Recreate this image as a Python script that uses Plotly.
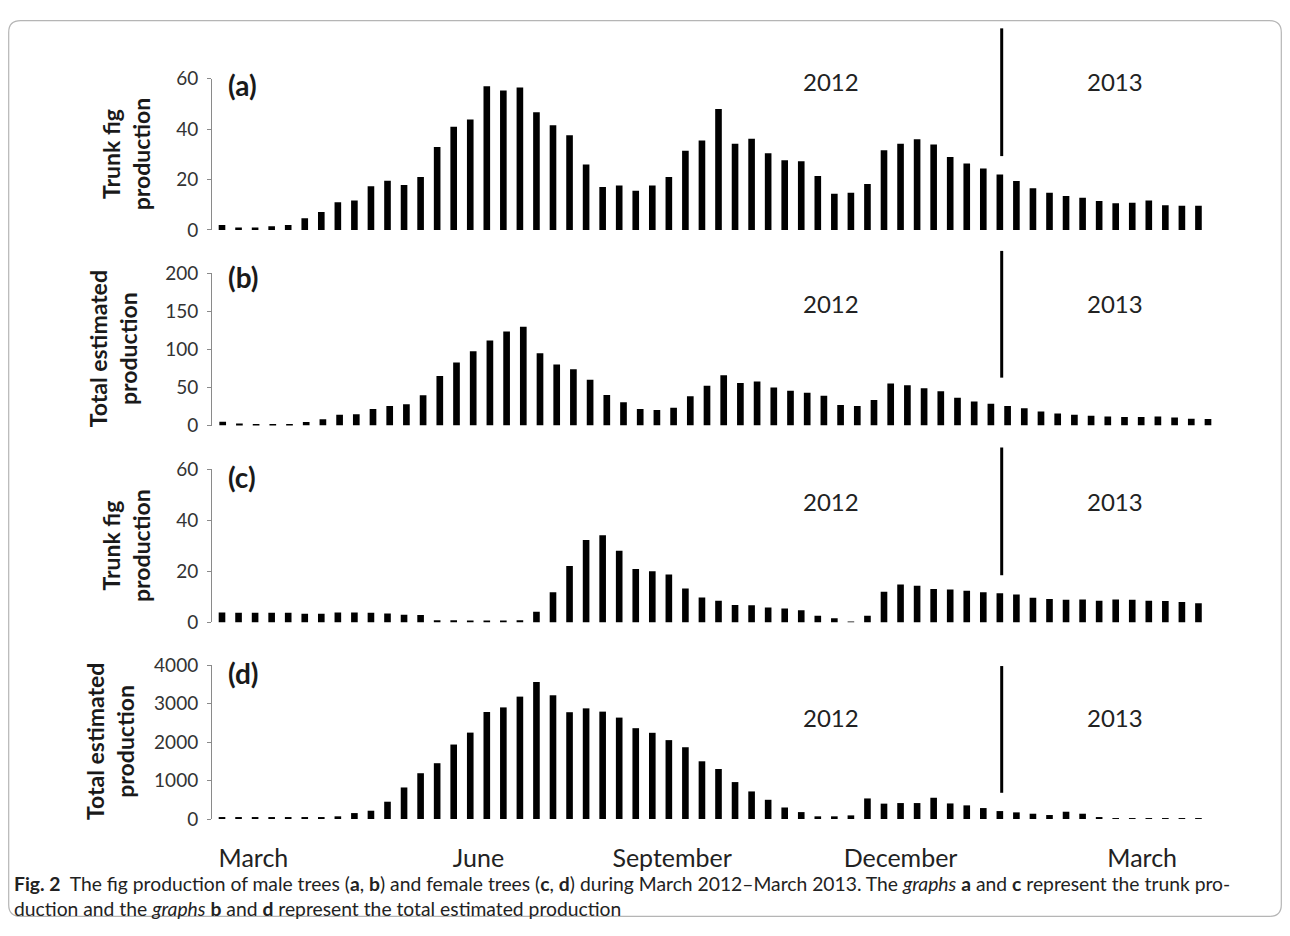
import plotly.graph_objects as go

# ---------------- data (weekly samples, March 2012 - March 2013) ----------------
weeks = list(range(1, 61))

male_trunk = [2, 1, 1, 1.5, 2, 4.6, 7.1, 11, 11.7, 17.3,
              19.5, 17.8, 21, 32.9, 41, 43.8, 57, 55.3, 56.5, 46.7,
              41.5, 37.6, 26, 17, 17.6, 15.6, 17.6, 21, 31.4, 35.5,
              48, 34.2, 36.2, 30.4, 27.7, 27.3, 21.4, 14.4, 14.8, 18.2,
              31.6, 34.2, 36, 33.9, 28.9, 26.4, 24.4, 22, 19.4, 16.5,
              14.8, 13.5, 12.8, 11.5, 10.6, 10.8, 11.7, 9.8, 9.6, 9.6]

male_total = [5, 2.6, 2, 2, 2, 4.8, 8.3, 14.3, 14.8, 21.7,
              25.7, 27.8, 39.6, 65, 82.6, 97.4, 111.7, 123.5, 129.6, 94.8,
              80, 74, 60, 40, 30.4, 21.7, 20.4, 23.5, 38.3, 52.2,
              66, 55.7, 57.8, 50, 45.7, 43, 39, 27, 25.7, 33.5,
              55.2, 53, 49, 45, 36.5, 31.7, 28.7, 25.7, 22.6, 18.3,
              15.7, 14, 13, 11.7, 11.3, 11.3, 11.7, 10.4, 9, 8.7]

female_trunk = [3.9, 3.8, 3.8, 3.8, 3.8, 3.4, 3.4, 3.9, 3.9, 3.8,
                3.5, 3, 2.9, 0.9, 0.9, 0.7, 0.7, 0.7, 0.9, 4.2,
                11.8, 22.1, 32.3, 34.2, 28.1, 21, 20.1, 18.8, 13.3, 9.8,
                8.5, 6.8, 6.7, 5.9, 5.5, 4.8, 2.6, 1.6, 0.3, 2.6,
                12, 14.9, 14.4, 13.1, 12.9, 12.4, 11.8, 11.4, 11, 9.7,
                9.2, 8.9, 9, 8.5, 9, 8.9, 8.5, 8.4, 8, 7.5]

female_total = [30, 30, 30, 30, 30, 30, 30, 70, 155, 216,
                450, 820, 1190, 1450, 1935, 2245, 2780, 2900, 3180, 3560,
                3215, 2775, 2875, 2790, 2635, 2360, 2240, 2050, 1865, 1500,
                1300, 960, 717, 500, 300, 180, 70, 70, 95, 535,
                400, 415, 415, 553, 405, 355, 285, 207, 173, 138,
                104, 190, 138, 26, 20, 20, 20, 20, 20, 20]

panel_labels = ["(a)", "(b)", "(c)", "(d)"]
y_titles = ["Trunk fig<br>production", "Total estimated<br>production",
            "Trunk fig<br>production", "Total estimated<br>production"]
y_max = [60, 200, 60, 4000]
y_dtick = [20, 50, 20, 1000]
year_labels = ["2012", "2013"]
month_labels = ["March", "June", "September", "December", "March"]
month_tick_weeks = [2.9, 16.5, 28.2, 42.0, 56.6]

series = [male_trunk, male_total, female_trunk, female_total]

# ---------------- layout helpers ----------------
# the page body keeps its default 8px margin, so the figure is sized to fit the
# 1290x936 window; vertical positions get a small correction for the viewer
PAGE_W, PAGE_H, BODY = 1290, 936, 8
W, H = PAGE_W - 2 * BODY, PAGE_H - 2 * BODY
VC, VK = 470.0, 0.977


def X(px):
    return (px - BODY) / W


def Yp(page_y):
    return 1 - (page_y - BODY) / H


def Y(py):
    return Yp(VC + (py - VC) / VK)


FONT = "Lato, 'Open Sans', sans-serif"
INK = "#1a1a1a"

panel_geom = [
    dict(y0=229.0, y1=77.5, xr=[0.396, 61.0], ytitle_x=126, lab_y=84, year_y=80, div=(27, 155)),
    dict(y0=425.0, y1=272.3, xr=[0.359, 60.42], ytitle_x=113, lab_y=276, year_y=303, div=(250, 377)),
    dict(y0=622.3, y1=469.0, xr=[0.396, 61.0], ytitle_x=126, lab_y=477, year_y=501, div=(447, 575)),
    dict(y0=819.3, y1=665.0, xr=[0.396, 61.0], ytitle_x=110, lab_y=673, year_y=718, div=(666, 793)),
]
x_dom = [X(212), X(1215)]

fig = go.Figure()
annotations = []
shapes = []

for i, (vals, g) in enumerate(zip(series, panel_geom)):
    n = "" if i == 0 else str(i + 1)
    fig.add_trace(go.Bar(x=weeks, y=vals, marker=dict(color="#000000", line=dict(width=0)),
                         xaxis="x" + n, yaxis="y" + n, showlegend=False,
                         hoverinfo="x+y"))
    xa = dict(domain=x_dom, range=g["xr"], showline=False, showgrid=False,
              zeroline=False, ticks="", showticklabels=False, anchor="y" + n)
    if i == 3:
        xa.update(showticklabels=True, tickmode="array", tickvals=month_tick_weeks,
                  ticktext=month_labels, ticklabelstandoff=22,
                  tickfont=dict(family=FONT, size=25, color="#222222"))
    ya = dict(domain=[Y(g["y0"]), Y(g["y1"])], range=[0, y_max[i]], dtick=y_dtick[i],
              tick0=0, showline=True, linecolor="#8a8a8a", linewidth=1,
              ticks="outside", ticklen=4, tickcolor="#8a8a8a", tickwidth=1,
              ticklabelstandoff=5,
              showgrid=False, zeroline=False, anchor="x" + n,
              tickfont=dict(family=FONT, size=19, color="#333333"))
    fig.update_layout(**{"xaxis" + n: xa, "yaxis" + n: ya})

    annotations.append(dict(text="<b>" + panel_labels[i] + "</b>", x=X(226), y=Y(g["lab_y"]),
                            xref="paper", yref="paper", xanchor="left", yanchor="middle",
                            showarrow=False, font=dict(family=FONT, size=28, color=INK)))
    for txt, cx in zip(year_labels, [831, 1115]):
        annotations.append(dict(text=txt, x=X(cx), y=Y(g["year_y"]), xref="paper", yref="paper",
                                xanchor="center", yanchor="middle", showarrow=False,
                                font=dict(family=FONT, size=24, color="#222222")))
    annotations.append(dict(text="<b>" + y_titles[i] + "</b>", x=X(g["ytitle_x"]),
                            y=Y((g["y0"] + g["y1"]) / 2), xref="paper", yref="paper",
                            xanchor="center", yanchor="middle", textangle=-90, showarrow=False,
                            font=dict(family=FONT, size=23, color=INK)))
    shapes.append(dict(type="line", xref="paper", yref="paper",
                       x0=X(1001.7), x1=X(1001.7), y0=Y(g["div"][0]), y1=Y(g["div"][1]),
                       line=dict(color="#000000", width=3)))

caption = ("<b>Fig. 2</b>&nbsp; The fig production of male trees (<b>a</b>, <b>b</b>) and female trees "
           "(<b>c</b>, <b>d</b>) during March 2012–March 2013. The <i>graphs</i> <b>a</b> and <b>c</b> "
           "represent the trunk pro-<br>duction and the <i>graphs</i> <b>b</b> and <b>d</b> represent "
           "the total estimated production")
annotations.append(dict(text=caption, x=X(12), y=Y(870), xref="paper", yref="paper",
                        xanchor="left", yanchor="top", align="left", showarrow=False,
                        font=dict(family=FONT, size=19.3, color="#222222")))


def rrect(x0, y0, x1, y1, r):
    return (f"M {X(x0 + r)},{Yp(y0)} L {X(x1 - r)},{Yp(y0)} Q {X(x1)},{Yp(y0)} {X(x1)},{Yp(y0 + r)} "
            f"L {X(x1)},{Yp(y1 - r)} Q {X(x1)},{Yp(y1)} {X(x1 - r)},{Yp(y1)} "
            f"L {X(x0 + r)},{Yp(y1)} Q {X(x0)},{Yp(y1)} {X(x0)},{Yp(y1 - r)} "
            f"L {X(x0)},{Yp(y0 + r)} Q {X(x0)},{Yp(y0)} {X(x0 + r)},{Yp(y0)} Z")


shapes.append(dict(type="path", xref="paper", yref="paper", path=rrect(8.7, 8.7, 1281.3, 927.4, 12),
                   line=dict(color="#b5b5b5", width=1.2), layer="below"))

fig.update_layout(width=W, height=H, margin=dict(l=0, r=0, t=0, b=0),
                  paper_bgcolor="white", plot_bgcolor="white", bargap=0.6,
                  annotations=annotations, shapes=shapes,
                  font=dict(family=FONT, color=INK))

fig.write_html("out.html")
